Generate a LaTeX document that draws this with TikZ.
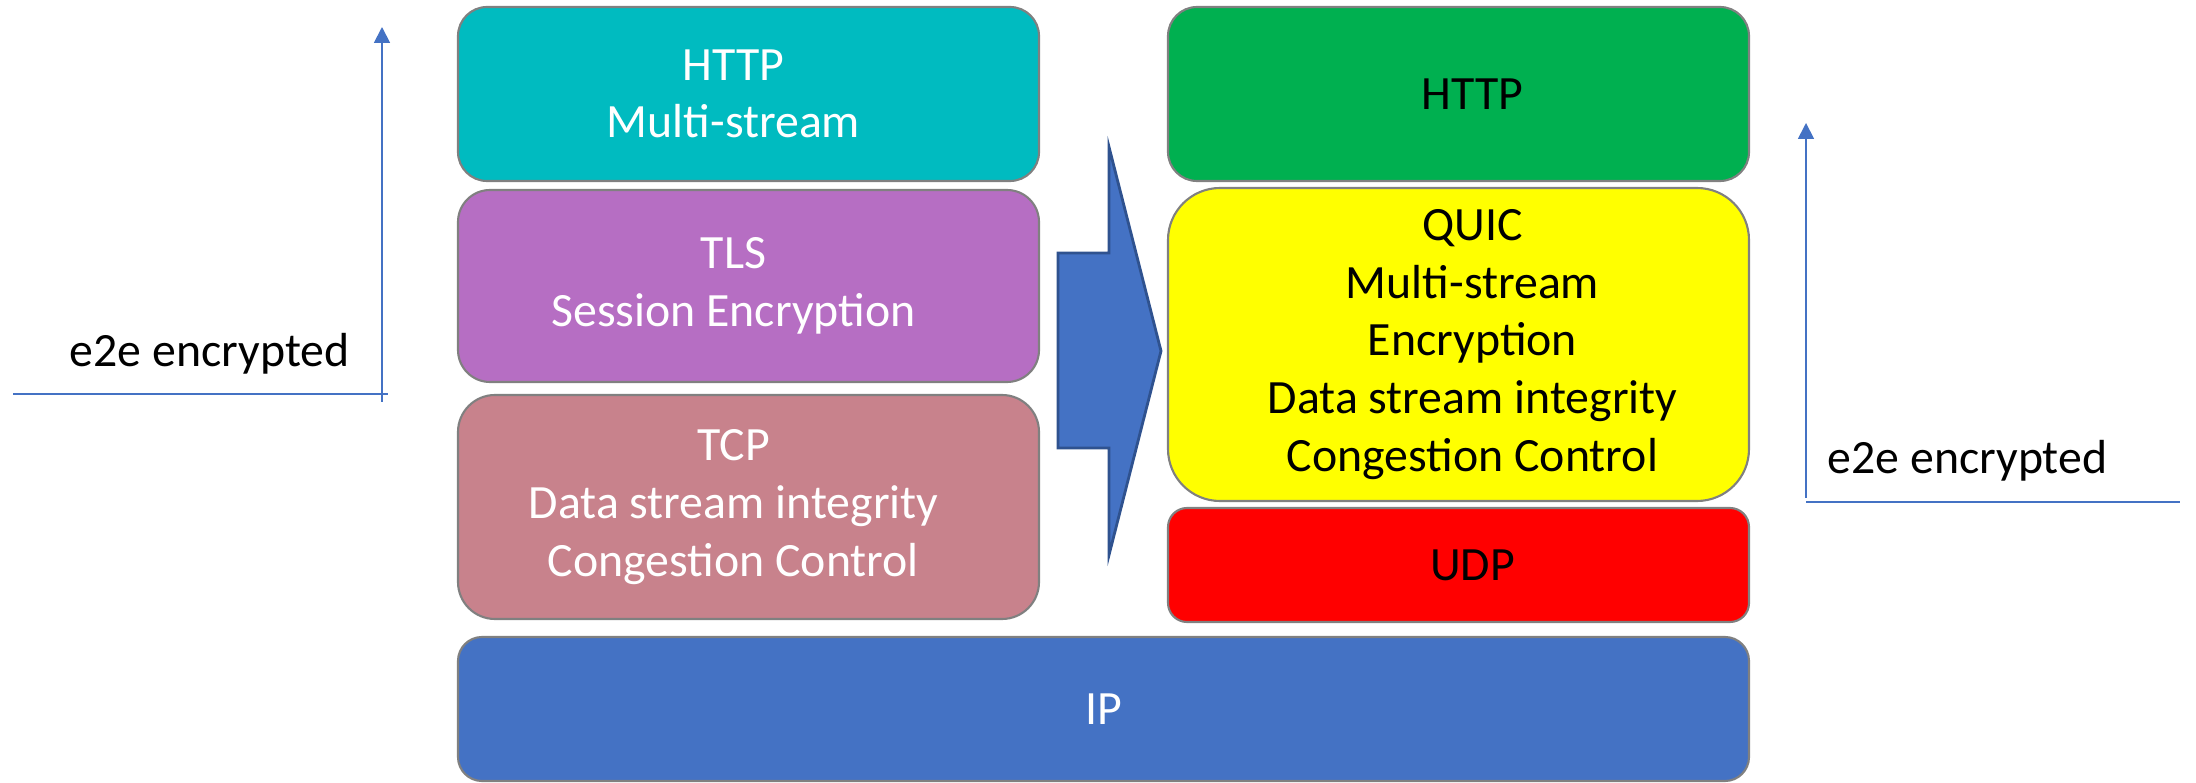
\documentclass[tikz,border=0pt]{standalone}
\usepackage{fontspec}
\setmainfont{Carlito}
\usepackage{xcolor}
\usetikzlibrary{arrows.meta,positioning}

\definecolor{httpteal}{RGB}{0,187,192}
\definecolor{tlspurple}{RGB}{182,110,195}
\definecolor{tcprose}{RGB}{200,130,140}
\definecolor{ipblue}{RGB}{68,114,196}
\definecolor{quicgreen}{RGB}{0,176,80}
\definecolor{quicyellow}{RGB}{255,255,0}
\definecolor{udpred}{RGB}{255,0,0}
\definecolor{arrowedge}{RGB}{47,82,143}

\begin{document}
\begin{tikzpicture}[
  layer/.style={rectangle, draw=gray, line width=0.6pt, minimum width=5.81cm,
    font=\fontsize{13.6}{16.4}\selectfont, align=center, inner sep=0pt},
  oldtext/.style={text=white, xshift=-0.15cm, inner sep=0pt, align=center,
    font=\fontsize{13.6}{16.4}\selectfont},
  newtext/.style={text=black, xshift=0.14cm, inner sep=0pt, align=center,
    font=\fontsize{13.6}{16.4}\selectfont},
  e2e/.style={draw=ipblue, line width=0.5pt},
  e2etext/.style={font=\fontsize{13.6}{16}\selectfont, inner sep=0pt},
  >={Triangle[width=4.5pt,length=4.5pt]}
]
  \useasboundingbox (0,0) rectangle (21.96,7.82);

  % TCP/TLS stack
  \node[layer, fill=httpteal, minimum height=1.74cm, rounded corners=0.29cm,
    label={[oldtext]center:{HTTP\\Multi-stream}}] (httpold) at (7.485,6.88) {};
  \node[layer, fill=tlspurple, minimum height=1.92cm, rounded corners=0.32cm,
    label={[oldtext]center:{TLS\\Session Encryption}}] (tls) at (7.485,4.96) {};
  \node[layer, fill=tcprose, minimum height=2.24cm, rounded corners=0.37cm,
    label={[oldtext]center:{TCP\\Data stream integrity\\Congestion Control}}]
    (tcp) at (7.485,2.75) {};

  % QUIC stack
  \node[layer, fill=quicgreen, minimum height=1.74cm, rounded corners=0.29cm,
    label={[newtext]center:HTTP}] (httpnew) at (14.585,6.88) {};
  \node[layer, fill=quicyellow, minimum height=3.13cm, rounded corners=0.52cm,
    label={[newtext]center:{QUIC\\Multi-stream\\Encryption\\Data stream integrity\\Congestion Control}}]
    (quic) at (14.585,4.375) {};
  \node[layer, fill=udpred, minimum height=1.14cm, rounded corners=0.19cm,
    label={[newtext]center:UDP}] (udp) at (14.585,2.17) {};

  \node[layer, fill=ipblue, text=white, minimum width=12.91cm,
    minimum height=1.44cm, rounded corners=0.24cm] (ip) at (11.035,0.73) {IP};

  % conversion arrow
  \draw[fill=ipblue, draw=arrowedge, line width=0.8pt]
    (10.58,5.29) -- (11.09,5.29) -- (11.09,6.35) -- (11.61,4.31)
    -- (11.09,2.27) -- (11.09,3.34) -- (10.58,3.34) -- cycle;

  % e2e markers
  \coordinate (lbot) at (3.82,3.80);
  \coordinate (ltop) at (3.82,7.55);
  \coordinate (lwest) at (0.13,3.88);
  \coordinate (least) at (3.88,3.88);
  \draw[e2e, ->] (lbot) -- (ltop);
  \draw[e2e] (lwest) -- (least);
  \node[e2etext, anchor=base east] (lenc) at (3.50,4.15) {e2e encrypted};

  \coordinate (rbot) at (18.06,2.84);
  \coordinate (rtop) at (18.06,6.59);
  \coordinate (rwest) at (18.06,2.80);
  \coordinate (reast) at (21.80,2.80);
  \draw[e2e, ->] (rbot) -- (rtop);
  \draw[e2e] (rwest) -- (reast);
  \node[e2etext, anchor=base west] (renc) at (18.27,3.08) {e2e encrypted};
\end{tikzpicture}
\end{document}
